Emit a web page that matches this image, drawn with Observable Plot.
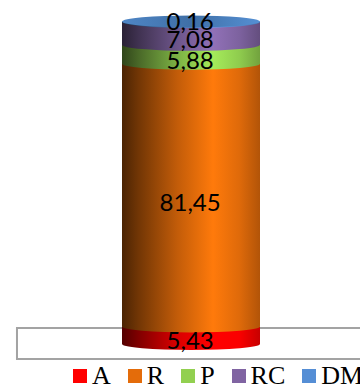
<!DOCTYPE html>
<html>
<head>
<meta charset="utf-8">
<script src="https://cdn.jsdelivr.net/npm/d3@7"></script>
<script src="https://cdn.jsdelivr.net/npm/@observablehq/plot@0.6"></script>
<style>
  html, body { margin: 0; padding: 0; background: #fff; overflow: hidden; }
  #chart { width: 360px; height: 385px; position: relative; overflow: hidden; }
  #chart svg { display: block; background: #fff; }
  .legend { display: flex; gap: 17px; padding-left: 73px; height: 25px; align-items: center;
    font: 26px "Liberation Serif", serif; color: #000; white-space: nowrap; line-height: 25px; }
  .legend span { display: inline-flex; align-items: center; gap: 5px; }
  .legend i { display: inline-block; width: 14px; height: 14px; }
</style>
</head>
<body>
<div id="chart"></div>
<script>
const categories = ["A", "R", "P", "RC", "DM"];
const shares = [5.43, 81.45, 5.88, 7.08, 0.16];
const labels = ["5,43", "81,45", "5,88", "7,08", "0,16"];
const swatches = ["#ff0000", "#e46c0a", "#92d050", "#8064a2", "#558ed5"];

// Horizontal shading that gives each band its rounded look: offset and brightness.
const shading = [[0, 0.33], [0.12, 0.5], [0.4, 0.85], [0.66, 1.13], [0.85, 0.98], [1, 0.78]];
const capRadius = 6;

const tops = d3.cumsum(shares);
const bands = categories.map((name, i) => ({
  name, value: shares[i], label: labels[i], i,
  from: tops[i] - shares[i], to: tops[i], mid: tops[i] - shares[i] / 2
}));

const shade = (hex, k) => {
  const c = d3.rgb(hex);
  return d3.rgb(Math.min(255, c.r * k), Math.min(255, c.g * k), Math.min(255, c.b * k)).formatHex();
};

// Gradient definitions for the bands and for the lid of the cylinder.
const gradients = () => {
  const defs = d3.create("svg:defs");
  bands.forEach((b) => {
    const g = defs.append("linearGradient").attr("id", `band-${b.i}`);
    shading.forEach(([o, k]) => g.append("stop").attr("offset", o).attr("stop-color", shade(swatches[b.i], k)));
  });
  const lid = defs.append("linearGradient").attr("id", "lid");
  [[0, "#4f86c6"], [0.5, "#3f6fa6"], [1, "#5590d4"]].forEach(([o, c]) =>
    lid.append("stop").attr("offset", o).attr("stop-color", c));
  return defs.node();
};

// Turns each stacked rect into a cylinder slice with a curved lower edge.
const cylinderSlices = (index, scales, values, dimensions, context, next) => {
  const g = next(index, scales, values, dimensions, context);
  const ns = "http://www.w3.org/2000/svg";
  [...g.querySelectorAll("rect")].forEach((r, j) => {
    const x = +r.getAttribute("x"), y = +r.getAttribute("y");
    const w = +r.getAttribute("width"), h = +r.getAttribute("height");
    const rx = w / 2, b = y + h;
    const path = document.createElementNS(ns, "path");
    path.setAttribute("d", `M${x},${y}V${b}A${rx},${capRadius} 0 0 0 ${x + w},${b}V${y}Z`);
    path.setAttribute("fill", `url(#band-${index[j]})`);
    r.replaceWith(path);
    if (index[j] === bands.length - 1) {
      const lid = document.createElementNS(ns, "ellipse");
      lid.setAttribute("cx", x + rx);
      lid.setAttribute("cy", y);
      lid.setAttribute("rx", rx);
      lid.setAttribute("ry", capRadius);
      lid.setAttribute("fill", "url(#lid)");
      g.appendChild(lid);
    }
  });
  return g;
};

const textStyle = { text: "label", x: 0.49, y: "mid", fill: "#000", fontSize: 24, fontFamily: "Lato, sans-serif", textAnchor: "middle" };

const plot = Plot.plot({
  width: 360,
  height: 363,
  margin: 0,
  style: { background: "#fff", overflow: "hidden" },
  x: { axis: null, domain: [0, 1], range: [122, 260] },
  y: { axis: null, domain: [0, 100], range: [344, 21.5] },
  marks: [
    gradients,
    // Chart floor, running off the right edge.
    Plot.rect([0], { x1: -0.761, x2: 2, y1: -4.65, y2: 4.96, fill: "#fff", stroke: "#a3a3a3", strokeWidth: 2 }),
    Plot.rect(bands, { x1: () => 0, x2: () => 1, y1: "from", y2: "to", inset: 0, render: cylinderSlices }),
    // The tall band and the lid sit at their own offsets from the band centre.
    Plot.text(bands.filter((b) => b.name !== "R" && b.name !== "DM"), { ...textStyle, dy: 6 }),
    Plot.text(bands.filter((b) => b.name === "R"), { ...textStyle, dy: 8 }),
    Plot.text(bands.filter((b) => b.name === "DM"), { ...textStyle, dy: 0 })
  ]
});

const chart = document.getElementById("chart");
chart.appendChild(plot);

const legend = document.createElement("div");
legend.className = "legend";
categories.forEach((name, i) => {
  const item = document.createElement("span");
  const mark = document.createElement("i");
  mark.style.background = swatches[i];
  item.append(mark, name);
  legend.appendChild(item);
});
chart.appendChild(legend);
</script>
</body>
</html>
